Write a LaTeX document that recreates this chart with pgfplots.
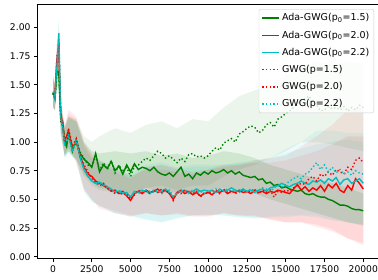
\documentclass[border=0pt]{standalone}
\usepackage{fontspec}
\setmainfont{DejaVu Sans}
\usepackage{pgfplots}
\usepackage{pgfplotstable}
\pgfplotsset{compat=1.18}
\usepgfplotslibrary{fillbetween}
\definecolor{mgreen}{rgb}{0,0.5,0}
\definecolor{mred}{rgb}{1,0,0}
\definecolor{mcyan}{rgb}{0,0.75,0.75}
\pgfplotstableread{
x a15 a20 a22 g15 g20 g22
0 1.43 1.42 1.43 1.42 1.43 1.44
125 1.38 1.40 1.37 1.39 1.38 1.40
250 1.62 1.72 1.65 1.60 1.75 1.70
375 1.60 1.80 1.95 1.62 1.82 1.90
500 1.20 1.25 1.22 1.18 1.20 1.21
625 1.18 1.15 1.12 1.15 1.13 1.16
750 1.00 1.02 0.98 1.01 1.00 0.99
875 0.96 1.05 1.00 0.98 1.03 1.01
1000 1.08 1.10 1.05 1.06 1.12 1.07
1250 0.92 0.95 0.93 0.94 0.96 0.92
1500 1.02 1.00 1.02 1.00 1.03 1.01
1750 0.90 0.88 0.86 0.91 0.87 0.88
2000 0.85 0.78 0.76 0.86 0.80 0.77
2250 0.82 0.72 0.70 0.80 0.74 0.71
2500 0.78 0.70 0.66 0.79 0.68 0.67
2750 0.90 0.66 0.64 0.88 0.65 0.63
3000 0.74 0.64 0.65 0.75 0.62 0.64
3250 0.80 0.62 0.63 0.82 0.64 0.62
3500 0.77 0.60 0.61 0.76 0.59 0.60
3750 0.83 0.57 0.59 0.84 0.58 0.57
4000 0.75 0.58 0.56 0.73 0.55 0.57
4250 0.79 0.55 0.57 0.80 0.56 0.58
4500 0.72 0.57 0.55 0.74 0.54 0.56
4750 0.80 0.53 0.56 0.78 0.55 0.54
5000 0.74 0.49 0.52 0.70 0.50 0.53
5250 0.81 0.55 0.57 0.79 0.54 0.56
5500 0.76 0.57 0.56 0.80 0.58 0.55
5750 0.78 0.55 0.58 0.83 0.56 0.57
6000 0.77 0.58 0.57 0.86 0.57 0.58
6250 0.75 0.56 0.55 0.84 0.55 0.57
6500 0.78 0.57 0.58 0.88 0.58 0.56
6750 0.74 0.59 0.56 0.92 0.56 0.58
7000 0.72 0.56 0.57 0.90 0.59 0.55
7250 0.71 0.58 0.59 0.86 0.57 0.57
7500 0.73 0.55 0.56 0.88 0.56 0.58
7750 0.70 0.50 0.52 0.85 0.49 0.53
8000 0.74 0.56 0.55 0.82 0.57 0.56
8250 0.78 0.58 0.57 0.86 0.55 0.58
8500 0.70 0.55 0.58 0.83 0.58 0.57
8750 0.72 0.57 0.56 0.89 0.56 0.55
9000 0.68 0.54 0.57 0.90 0.55 0.58
9250 0.73 0.56 0.59 0.87 0.57 0.56
9500 0.71 0.53 0.57 0.88 0.52 0.57
9750 0.74 0.55 0.58 0.86 0.56 0.55
10000 0.72 0.56 0.57 0.88 0.55 0.58
10250 0.75 0.54 0.58 0.92 0.57 0.56
10500 0.73 0.57 0.56 0.95 0.58 0.59
10750 0.74 0.56 0.59 0.93 0.55 0.57
11000 0.76 0.58 0.57 0.99 0.59 0.58
11250 0.73 0.55 0.58 1.01 0.56 0.59
11500 0.75 0.57 0.60 1.03 0.58 0.57
11750 0.72 0.56 0.58 1.00 0.55 0.58
12000 0.74 0.58 0.57 1.07 0.57 0.56
12250 0.71 0.56 0.59 1.09 0.58 0.58
12500 0.70 0.57 0.57 1.12 0.56 0.57
12750 0.69 0.55 0.58 1.14 0.57 0.59
13000 0.70 0.58 0.56 1.13 0.59 0.57
13250 0.67 0.56 0.58 1.08 0.55 0.58
13500 0.68 0.57 0.59 1.10 0.58 0.60
13750 0.64 0.55 0.57 1.15 0.56 0.59
14000 0.65 0.57 0.60 1.17 0.58 0.57
14250 0.62 0.56 0.61 1.13 0.52 0.60
14500 0.63 0.58 0.62 1.20 0.57 0.62
14750 0.60 0.57 0.64 1.22 0.56 0.61
15000 0.61 0.56 0.62 1.25 0.58 0.63
15250 0.59 0.55 0.61 1.27 0.57 0.66
15500 0.58 0.59 0.63 1.30 0.60 0.68
15750 0.57 0.63 0.64 1.34 0.62 0.70
16000 0.58 0.58 0.66 1.36 0.64 0.68
16250 0.55 0.61 0.64 1.38 0.63 0.72
16500 0.54 0.57 0.63 1.40 0.68 0.74
16750 0.55 0.60 0.66 1.35 0.70 0.78
17000 0.53 0.58 0.65 1.32 0.66 0.82
17250 0.52 0.62 0.67 1.27 0.72 0.76
17500 0.52 0.57 0.64 1.28 0.70 0.80
17750 0.50 0.63 0.68 1.31 0.74 0.74
18000 0.49 0.60 0.66 1.29 0.71 0.78
18250 0.47 0.64 0.69 1.30 0.76 0.73
18500 0.45 0.58 0.63 1.28 0.74 0.76
18750 0.45 0.56 0.67 1.31 0.72 0.72
19000 0.44 0.62 0.68 1.27 0.78 0.74
19250 0.42 0.58 0.64 1.30 0.76 0.71
19500 0.41 0.68 0.66 1.28 0.84 0.75
19750 0.41 0.64 0.68 1.32 0.86 0.73
20000 0.40 0.59 0.64 1.30 0.82 0.72
}\means
\pgfplotstableread{
x l1 u1 l2 u2 l3 u3 l4 u4 l5 u5 l6 u6
0 1.30 1.58 1.30 1.55 1.32 1.55 1.30 1.58 1.30 1.55 1.32 1.56
125 1.28 1.50 1.28 1.50 1.27 1.48 1.28 1.52 1.28 1.50 1.28 1.50
250 1.50 1.78 1.58 1.85 1.52 1.80 1.48 1.75 1.60 1.88 1.56 1.84
375 1.45 1.78 1.65 1.95 1.80 2.08 1.46 1.80 1.68 1.96 1.76 2.05
500 1.08 1.32 1.12 1.38 1.10 1.35 1.05 1.32 1.08 1.34 1.08 1.35
750 0.88 1.12 0.90 1.15 0.86 1.10 0.88 1.14 0.88 1.12 0.86 1.12
1000 0.92 1.22 0.95 1.25 0.90 1.20 0.92 1.22 0.95 1.28 0.92 1.22
1500 0.85 1.18 0.82 1.20 0.84 1.18 0.84 1.20 0.85 1.22 0.83 1.18
2000 0.72 1.00 0.58 0.98 0.56 0.96 0.70 1.05 0.60 1.00 0.58 0.97
2500 0.65 0.92 0.50 0.90 0.48 0.85 0.62 1.00 0.50 0.88 0.48 0.86
3000 0.60 0.90 0.44 0.84 0.45 0.84 0.58 1.05 0.42 0.82 0.44 0.84
4000 0.58 0.92 0.40 0.78 0.38 0.76 0.56 1.12 0.38 0.74 0.38 0.76
5000 0.55 0.90 0.36 0.70 0.35 0.70 0.54 1.08 0.35 0.68 0.36 0.72
6000 0.60 0.92 0.38 0.76 0.32 0.78 0.60 1.15 0.38 0.78 0.33 0.80
7000 0.56 0.88 0.36 0.76 0.30 0.80 0.62 1.18 0.36 0.80 0.30 0.82
8000 0.56 0.90 0.38 0.74 0.33 0.76 0.58 1.12 0.37 0.77 0.34 0.78
9000 0.54 0.86 0.36 0.72 0.36 0.78 0.62 1.20 0.35 0.74 0.36 0.80
10000 0.58 0.88 0.36 0.76 0.36 0.78 0.62 1.18 0.35 0.76 0.37 0.80
11000 0.60 0.92 0.38 0.78 0.36 0.80 0.70 1.30 0.38 0.80 0.36 0.80
12000 0.58 0.90 0.36 0.80 0.34 0.82 0.76 1.40 0.36 0.80 0.35 0.82
13000 0.55 0.86 0.35 0.82 0.34 0.82 0.80 1.45 0.36 0.84 0.33 0.84
14000 0.50 0.80 0.33 0.82 0.35 0.86 0.86 1.50 0.32 0.86 0.34 0.86
15000 0.46 0.76 0.30 0.84 0.36 0.90 0.92 1.58 0.30 0.88 0.34 0.94
16000 0.42 0.72 0.30 0.88 0.36 0.94 1.00 1.65 0.30 0.96 0.36 1.00
17000 0.38 0.68 0.26 0.92 0.34 0.98 1.00 1.70 0.28 1.05 0.36 1.10
18000 0.34 0.64 0.22 0.98 0.32 1.00 0.98 1.68 0.24 1.15 0.32 1.10
19000 0.30 0.60 0.16 1.05 0.30 1.02 0.95 1.70 0.16 1.28 0.30 1.08
20000 0.27 0.55 0.12 1.05 0.28 1.00 0.92 1.68 0.10 1.30 0.28 1.08
}\bands
\begin{document}
\begin{tikzpicture}
\begin{axis}[
  at={(0,0)}, anchor=south west,
  scale only axis, width=341.3bp, height=253.8bp,
  xmin=-1000, xmax=21000, ymin=-0.014, ymax=2.199,
  xtick={0,2500,...,20000},
  ytick={0,0.25,...,2.0},
  scaled x ticks=false,
  xticklabel style={/pgf/number format/1000 sep={}},
  yticklabel style={/pgf/number format/.cd,fixed,fixed zerofill,precision=2},
  /pgf/number format/assume math mode=true,
  tick align=outside, xtick pos=bottom, ytick pos=left,
  major tick length=3.5bp,
  every tick/.style={black, line width=0.8bp},
  axis line style={black, line width=0.8bp},
  tick label style={font=\fontsize{9.2bp}{11bp}\selectfont},
  legend cell align=left,
  legend image post style={line width=1.5bp},
  legend style={at={(0.986,0.982)}, anchor=north east, draw=black!20, rounded corners=2bp,
    fill=white, fill opacity=0.8, text opacity=1, draw opacity=1,
    font=\fontsize{9.5bp}{11bp}\selectfont, row sep=4.5bp, inner sep=2.5bp},
]
% bands
\addplot[name path=u1, draw=none, forget plot] table[x=x,y=u1]{\bands};
\addplot[name path=l1, draw=none, forget plot] table[x=x,y=l1]{\bands};
\addplot[mgreen, fill opacity=0.12, forget plot] fill between[of=u1 and l1];
\addplot[name path=u2, draw=none, forget plot] table[x=x,y=u2]{\bands};
\addplot[name path=l2, draw=none, forget plot] table[x=x,y=l2]{\bands};
\addplot[mred, fill opacity=0.08, forget plot] fill between[of=u2 and l2];
\addplot[name path=u3, draw=none, forget plot] table[x=x,y=u3]{\bands};
\addplot[name path=l3, draw=none, forget plot] table[x=x,y=l3]{\bands};
\addplot[mcyan, fill opacity=0.08, forget plot] fill between[of=u3 and l3];
\addplot[name path=u4, draw=none, forget plot] table[x=x,y=u4]{\bands};
\addplot[name path=l4, draw=none, forget plot] table[x=x,y=l4]{\bands};
\addplot[mgreen, fill opacity=0.08, forget plot] fill between[of=u4 and l4];
\addplot[name path=u5, draw=none, forget plot] table[x=x,y=u5]{\bands};
\addplot[name path=l5, draw=none, forget plot] table[x=x,y=l5]{\bands};
\addplot[mred, fill opacity=0.08, forget plot] fill between[of=u5 and l5];
\addplot[name path=u6, draw=none, forget plot] table[x=x,y=u6]{\bands};
\addplot[name path=l6, draw=none, forget plot] table[x=x,y=l6]{\bands};
\addplot[mcyan, fill opacity=0.08, forget plot] fill between[of=u6 and l6];
% lines
\addplot[mgreen, line width=1.4bp] table[x=x,y=a15]{\means};
\addlegendentry{Ada-GWG(p\textsubscript{0}=1.5)}
\addplot[mred, line width=1.4bp] table[x=x,y=a20]{\means};
\addlegendentry{Ada-GWG(p\textsubscript{0}=2.0)}
\addplot[mcyan, line width=1.4bp] table[x=x,y=a22]{\means};
\addlegendentry{Ada-GWG(p\textsubscript{0}=2.2)}
\addplot[mgreen, line width=1.4bp, dash pattern=on 1.4bp off 2.3bp] table[x=x,y=g15]{\means};
\addlegendentry{GWG(p=1.5)}
\addplot[mred, line width=1.4bp, dash pattern=on 1.4bp off 2.3bp] table[x=x,y=g20]{\means};
\addlegendentry{GWG(p=2.0)}
\addplot[mcyan, line width=1.4bp, dash pattern=on 1.4bp off 2.3bp] table[x=x,y=g22]{\means};
\addlegendentry{GWG(p=2.2)}
\end{axis}
\pgfresetboundingbox
\useasboundingbox (-37.5bp,-21.7bp) rectangle (340.5bp,258.3bp);
\end{tikzpicture}
\end{document}
